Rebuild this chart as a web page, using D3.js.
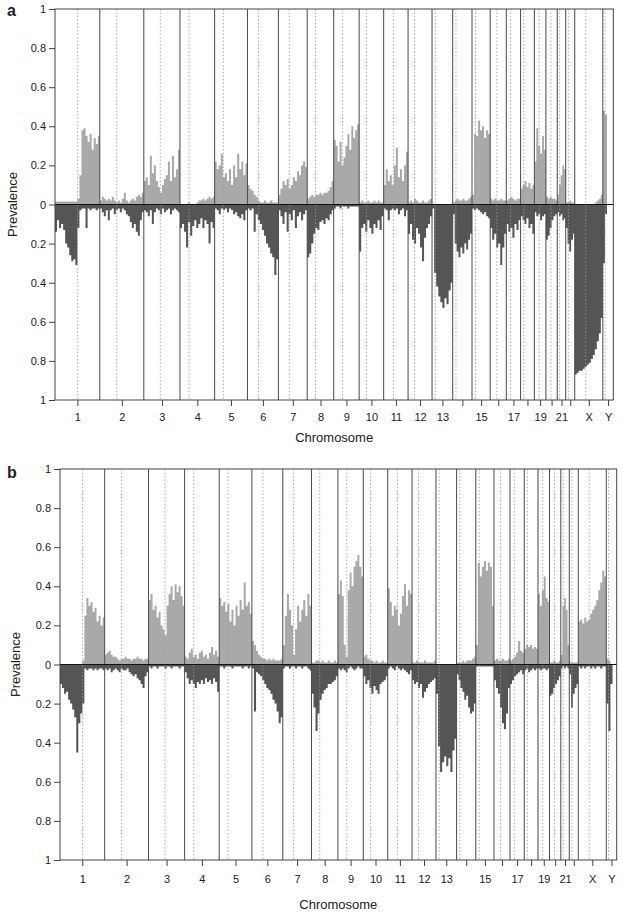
<!DOCTYPE html>
<html>
<head>
<meta charset="utf-8">
<script src="https://cdn.jsdelivr.net/npm/d3@7"></script>
<style>
  body { margin: 0; background: #fff; }
  text { font-family: "Liberation Sans", Arial, Helvetica, sans-serif; fill: #222; }
</style>
</head>
<body>
<div id="chart"></div>
<script>
// chromosome layout (Mb)
const chroms = ["1","2","3","4","5","6","7","8","9","10","11","12","13","14","15","16","17","18","19","20","21","22","X","Y"];
const chromLen = [247.2,242.8,199.5,191.3,180.9,170.9,158.8,146.3,140.3,135.4,134.5,132.3,114.1,106.4,100.3,88.8,78.8,76.1,63.8,62.4,46.9,49.7,154.9,57.8];
const centro = [125,93.3,91,50.4,48.4,61,59.9,45.6,49,40.2,53.7,35.8,17.9,17.6,19,36.6,24,17.2,26.5,27.5,13.2,14.7,60.6,12.5];
const tickLabels = ["1","2","3","4","5","6","7","8","9","10","11","12","13","","15","","17","","19","","21","","X","Y"];
const yTicks = [1,0.8,0.6,0.4,0.2,0,-0.2,-0.4,-0.6,-0.8,-1];

// panel a: prevalence of gains / losses along each chromosome
const gainA = [
  [0.015,0.015,0.015,0.015,0.015,0.015,0.015,0.015,0.015,0.015,0.015,0.03,0.15,0.38,0.39,0.35,0.32,0.36,0.28,0.34,0.31,0.35],
  [0.02,0.04,0.03,0.02,0.03,0.02,0.04,0.02,0.01,0.02,0.01,0.03,0.06,0.02,0.01,0.02,0.03,0.02,0.04,0.05,0.04,0.06],
  [0.12,0.14,0.1,0.25,0.16,0.2,0.12,0.09,0.06,0.1,0.13,0.15,0.22,0.12,0.25,0.14,0.18,0.28],
  [0,0,0,0,0.01,0,0,0,0.01,0.02,0.02,0.03,0.02,0.03,0.04,0.03,0.04],
  [0.22,0.18,0.2,0.26,0.14,0.16,0.12,0.18,0.1,0.2,0.14,0.26,0.18,0.22,0.15,0.21],
  [0.1,0.08,0.07,0.05,0.04,0.02,0.01,0.01,0.02,0.01,0.01,0.02,0.01,0.01,0.01],
  [0.05,0.08,0.12,0.1,0.13,0.08,0.1,0.14,0.12,0.17,0.15,0.2,0.22,0.19],
  [0.03,0.04,0.05,0.04,0.05,0.05,0.06,0.05,0.06,0.06,0.07,0.09,0.12],
  [0.33,0.3,0.22,0.32,0.2,0.24,0.3,0.36,0.28,0.4,0.34,0.38,0.41],
  [0.01,0.02,0.01,0.01,0.02,0.01,0.01,0.02,0.01,0.02,0.01,0.01],
  [0.1,0.18,0.12,0.15,0.1,0.2,0.29,0.14,0.18,0.12,0.2,0.27],
  [0.01,0.02,0.01,0.03,0.02,0.01,0.01,0.02,0.01,0.01,0.02,0.03],
  [0,0,0,0,0,0,0,0,0,0],
  [0.01,0.02,0.03,0.02,0.02,0.03,0.02,0.02,0.03,0.04],
  [0.05,0.36,0.35,0.43,0.38,0.4,0.34,0.38,0.36],
  [0.03,0.02,0.03,0.02,0.02,0.03,0.02,0.02],
  [0.02,0.03,0.04,0.03,0.02,0.03,0.03],
  [0.08,0.1,0.12,0.09,0.11,0.08,0.1],
  [0.22,0.39,0.3,0.26,0.35,0.28],
  [0.04,0.03,0.04,0.03,0.03,0.02],
  [0.05,0.1,0.15,0.2,0.18],
  [0.01,0.01,0.02,0.01,0.01],
  [0,0,0,0,0,0,0,0,0,0,0.01,0.02,0.03,0.05],
  [0.48,0.46,0,0,0]
];
const lossA = [
  [0.14,0.08,0.12,0.1,0.13,0.2,0.22,0.26,0.29,0.28,0.31,0.12,0.03,0.02,0.02,0.12,0.02,0.03,0.02,0.02,0.03,0.02],
  [0.02,0.04,0.06,0.03,0.08,0.03,0.02,0.05,0.03,0.02,0.04,0.02,0.03,0.05,0.06,0.09,0.12,0.1,0.14,0.16,0.08,0.04],
  [0.03,0.04,0.06,0.03,0.1,0.04,0.02,0.03,0.05,0.02,0.04,0.03,0.02,0.05,0.03,0.02,0.03,0.04],
  [0.12,0.1,0.14,0.22,0.09,0.16,0.11,0.08,0.12,0.1,0.07,0.12,0.08,0.1,0.2,0.09,0.12],
  [0.02,0.03,0.05,0.02,0.03,0.02,0.04,0.02,0.03,0.05,0.04,0.06,0.07,0.05,0.08,0.03],
  [0.02,0.03,0.02,0.14,0.05,0.08,0.1,0.13,0.16,0.2,0.22,0.25,0.27,0.36,0.28],
  [0.03,0.06,0.1,0.04,0.14,0.05,0.08,0.03,0.12,0.06,0.04,0.08,0.05,0.03],
  [0.27,0.25,0.2,0.15,0.12,0.13,0.09,0.08,0.1,0.07,0.08,0.05,0.03],
  [0.02,0.01,0.01,0.02,0.01,0.01,0.01,0.02,0.01,0.01,0.01,0.01,0.01],
  [0.24,0.12,0.1,0.14,0.08,0.12,0.15,0.1,0.12,0.08,0.13,0.06],
  [0.02,0.03,0.08,0.03,0.02,0.03,0.02,0.05,0.03,0.02,0.06,0.03],
  [0.15,0.1,0.18,0.2,0.12,0.15,0.22,0.29,0.17,0.12,0.1,0.06],
  [0.02,0.35,0.42,0.47,0.5,0.53,0.48,0.51,0.44,0.4],
  [0.05,0.2,0.24,0.27,0.22,0.25,0.2,0.23,0.18,0.15],
  [0.02,0.03,0.02,0.03,0.04,0.05,0.04,0.06,0.07],
  [0.12,0.18,0.15,0.22,0.2,0.31,0.22,0.15],
  [0.1,0.14,0.12,0.17,0.1,0.13,0.08],
  [0.06,0.08,0.1,0.07,0.12,0.1,0.15],
  [0.04,0.06,0.05,0.08,0.06,0.05],
  [0.18,0.16,0.12,0.08,0.06,0.05],
  [0.04,0.06,0.05,0.08,0.07],
  [0.12,0.2,0.24,0.18,0.15],
  [0.87,0.86,0.85,0.85,0.84,0.83,0.82,0.81,0.79,0.77,0.74,0.7,0.66,0.58],
  [0.3,0.05,0,0,0]
];

// panel b
const gainB = [
  [0,0,0,0,0,0,0,0,0,0,0,0.02,0.25,0.34,0.3,0.32,0.27,0.29,0.22,0.25,0.2,0.24],
  [0.05,0.06,0.07,0.05,0.04,0.04,0.03,0.02,0.03,0.03,0.04,0.03,0.03,0.02,0.03,0.03,0.04,0.03,0.03,0.02,0.03,0.03],
  [0.33,0.36,0.28,0.3,0.24,0.27,0.2,0.18,0.15,0.3,0.36,0.4,0.33,0.41,0.37,0.4,0.35,0.3],
  [0.04,0.03,0.06,0.08,0.04,0.05,0.03,0.06,0.07,0.04,0.05,0.03,0.06,0.09,0.05,0.07,0.04],
  [0.34,0.3,0.32,0.27,0.31,0.22,0.28,0.2,0.3,0.25,0.33,0.28,0.42,0.3,0.32,0.26],
  [0.12,0.1,0.07,0.05,0.04,0.03,0.03,0.02,0.03,0.02,0.03,0.02,0.02,0.02,0.03],
  [0.1,0.25,0.36,0.28,0.2,0.05,0.18,0.3,0.22,0.28,0.33,0.25,0.36,0.3],
  [0.01,0.01,0.02,0.02,0.01,0.02,0.01,0.01,0.02,0.01,0.01,0.02,0.01],
  [0.36,0.43,0.35,0.1,0.04,0.38,0.47,0.4,0.5,0.53,0.56,0.5,0.45],
  [0.04,0.05,0.03,0.02,0.02,0.01,0.02,0.01,0.01,0.02,0.01,0.01],
  [0.39,0.32,0.25,0.3,0.28,0.2,0.26,0.35,0.41,0.3,0.38,0.36],
  [0.01,0.01,0.02,0.01,0.01,0.01,0.02,0.01,0.01,0.01,0.01,0.02],
  [0,0,0,0,0,0,0,0,0,0],
  [0.01,0.01,0.01,0.02,0.01,0.02,0.02,0.02,0.03,0.04],
  [0.1,0.52,0.45,0.5,0.53,0.48,0.52,0.5,0.3],
  [0.02,0.03,0.02,0.02,0.03,0.02,0.02,0.03],
  [0.02,0.03,0.04,0.06,0.12,0.07,0.06],
  [0.08,0.1,0.09,0.1,0.08,0.09,0.08],
  [0.36,0.3,0.38,0.45,0.34,0.32],
  [0.01,0.01,0.02,0.01,0.01,0.02],
  [0.05,0.3,0.34,0.28,0.1],
  [0.01,0.01,0.01,0.01,0.01],
  [0.22,0.23,0.21,0.24,0.22,0.23,0.26,0.28,0.3,0.33,0.38,0.42,0.48,0.45],
  [0.03,0.02,0,0,0]
];
const lossB = [
  [0.1,0.12,0.15,0.14,0.18,0.2,0.23,0.27,0.45,0.3,0.25,0.2,0.02,0.03,0.02,0.02,0.03,0.02,0.03,0.02,0.02,0.03],
  [0.02,0.03,0.02,0.04,0.03,0.02,0.03,0.04,0.02,0.03,0.03,0.02,0.04,0.05,0.06,0.05,0.07,0.08,0.1,0.12,0.06,0.04],
  [0.01,0.02,0.01,0.01,0.02,0.01,0.01,0.01,0.02,0.01,0.01,0.02,0.01,0.01,0.01,0.02,0.01,0.01],
  [0.04,0.07,0.1,0.08,0.1,0.12,0.09,0.1,0.08,0.1,0.07,0.09,0.08,0.1,0.07,0.09,0.14],
  [0.01,0.01,0.02,0.01,0.01,0.01,0.02,0.01,0.01,0.01,0.01,0.02,0.01,0.01,0.02,0.01],
  [0.02,0.24,0.04,0.05,0.06,0.08,0.1,0.12,0.13,0.15,0.18,0.2,0.24,0.3,0.27],
  [0.02,0.01,0.01,0.02,0.01,0.01,0.02,0.01,0.01,0.02,0.01,0.01,0.02,0.03],
  [0.15,0.22,0.34,0.25,0.18,0.15,0.13,0.12,0.1,0.1,0.09,0.08,0.06],
  [0.02,0.03,0.02,0.03,0.04,0.02,0.01,0.02,0.03,0.02,0.01,0.02,0.02],
  [0.06,0.1,0.08,0.12,0.15,0.11,0.13,0.15,0.1,0.09,0.08,0.06],
  [0.02,0.01,0.02,0.03,0.01,0.02,0.03,0.02,0.03,0.04,0.05,0.03],
  [0.08,0.1,0.09,0.12,0.1,0.17,0.14,0.12,0.1,0.09,0.08,0.07],
  [0.15,0.42,0.55,0.5,0.47,0.52,0.48,0.55,0.44,0.38],
  [0.05,0.08,0.12,0.14,0.18,0.16,0.22,0.25,0.24,0.2],
  [0.01,0.01,0.01,0.01,0.01,0.01,0.01,0.01,0.01],
  [0.08,0.12,0.15,0.22,0.3,0.33,0.25,0.12],
  [0.1,0.08,0.06,0.05,0.04,0.03,0.05],
  [0.03,0.02,0.04,0.03,0.02,0.03,0.02],
  [0.02,0.03,0.02,0.02,0.03,0.02],
  [0.16,0.15,0.12,0.1,0.08,0.06],
  [0.02,0.01,0.02,0.01,0.02],
  [0.05,0.22,0.15,0.12,0.1],
  [0.01,0.02,0.01,0.02,0.01,0.01,0.02,0.01,0.02,0.01,0.01,0.02,0.01,0.01],
  [0.2,0.34,0.1,0,0]
];

const svg = d3.select("#chart").append("svg")
    .attr("width", 623)
    .attr("height", 915);

// cumulative chromosome starts
const starts = d3.cumsum([0].concat(chromLen.slice(0, -1)));
const total = d3.sum(chromLen);

function drawPanel(p) {
    const x = d3.scaleLinear().domain([0, total]).range([p.left, p.right]);
    const y = d3.scaleLinear().domain([-1, 1]).range([p.bottom, p.top]);
    const g = svg.append("g");

    // one step profile per chromosome
    function steps(vals, i, sign) {
        const w = chromLen[i] / vals.length;
        const pts = vals.map((v, j) => ({ pos: starts[i] + j * w, v: sign * v }));
        pts.push({ pos: starts[i] + chromLen[i], v: sign * vals[vals.length - 1] });
        return pts;
    }
    const area = d3.area()
        .curve(d3.curveStepAfter)
        .x(d => x(d.pos))
        .y0(y(0))
        .y1(d => y(d.v));

    g.append("g").selectAll("path")
        .data(p.gain.map((vals, i) => steps(vals, i, 1)))
        .join("path")
        .attr("d", area)
        .attr("fill", "#a9a9a9");

    g.append("g").selectAll("path")
        .data(p.loss.map((vals, i) => steps(vals, i, -1)))
        .join("path")
        .attr("d", area)
        .attr("fill", "#555555");

    // centromeres
    g.append("g").selectAll("line")
        .data(centro.map((c, i) => starts[i] + c))
        .join("line")
        .attr("x1", d => x(d)).attr("x2", d => x(d))
        .attr("y1", p.top).attr("y2", p.bottom)
        .attr("stroke", "#9a9a9a")
        .attr("stroke-width", 0.8)
        .attr("stroke-dasharray", "1.5,2");

    // chromosome boundaries
    g.append("g").selectAll("line")
        .data(starts.slice(1))
        .join("line")
        .attr("x1", d => x(d)).attr("x2", d => x(d))
        .attr("y1", p.top).attr("y2", p.bottom)
        .attr("stroke", "#4a4a4a")
        .attr("stroke-width", 1);

    // zero line
    g.append("line")
        .attr("x1", p.left).attr("x2", p.right)
        .attr("y1", y(0)).attr("y2", y(0))
        .attr("stroke", "#111").attr("stroke-width", 1.1);

    // box
    g.append("rect")
        .attr("x", p.left).attr("y", p.top)
        .attr("width", p.right - p.left).attr("height", p.bottom - p.top)
        .attr("fill", "none").attr("stroke", "#444").attr("stroke-width", 1);

    // y axis
    const ya = g.append("g")
        .attr("transform", `translate(${p.left},0)`)
        .call(d3.axisLeft(y).tickValues(yTicks)
            .tickFormat(d => String(+Math.abs(d).toFixed(1)))
            .tickSize(6).tickPadding(3));
    ya.select(".domain").remove();
    ya.selectAll("line").attr("stroke", "#444");
    ya.selectAll("text").style("font-size", "11px").attr("fill", "#333");

    // x axis
    const xa = g.append("g")
        .attr("transform", `translate(0,${p.bottom})`)
        .call(d3.axisBottom(x).tickValues(chromLen.map((l, i) => starts[i] + l / 2))
            .tickFormat((d, i) => tickLabels[i])
            .tickSize(6).tickPadding(p.tickPad));
    xa.select(".domain").remove();
    xa.selectAll("line").attr("stroke", "#444");
    xa.selectAll("text").style("font-size", "11px").attr("fill", "#333");

    // titles
    g.append("text")
        .attr("x", (p.left + p.right) / 2).attr("y", p.titleY)
        .attr("text-anchor", "middle")
        .style("font-size", "13px")
        .text("Chromosome");

    g.append("text")
        .attr("transform", `translate(${p.ylabX},${y(0)}) rotate(-90)`)
        .attr("text-anchor", "middle")
        .attr("dy", "0.35em")
        .style("font-size", "13px")
        .text("Prevalence");

    g.append("text")
        .attr("x", 7).attr("y", p.letterY)
        .style("font-size", "16px").style("font-weight", "bold")
        .attr("fill", "#111")
        .text(p.letter);
}

drawPanel({ gain: gainA, loss: lossA, left: 55, right: 613.3, top: 9, bottom: 400,
    tickPad: 7, titleY: 442, ylabX: 12, letter: "a", letterY: 16 });
drawPanel({ gain: gainB, loss: lossB, left: 60, right: 616.7, top: 469, bottom: 860,
    tickPad: 9, titleY: 909, ylabX: 15, letter: "b", letterY: 478 });
</script>
</body>
</html>
